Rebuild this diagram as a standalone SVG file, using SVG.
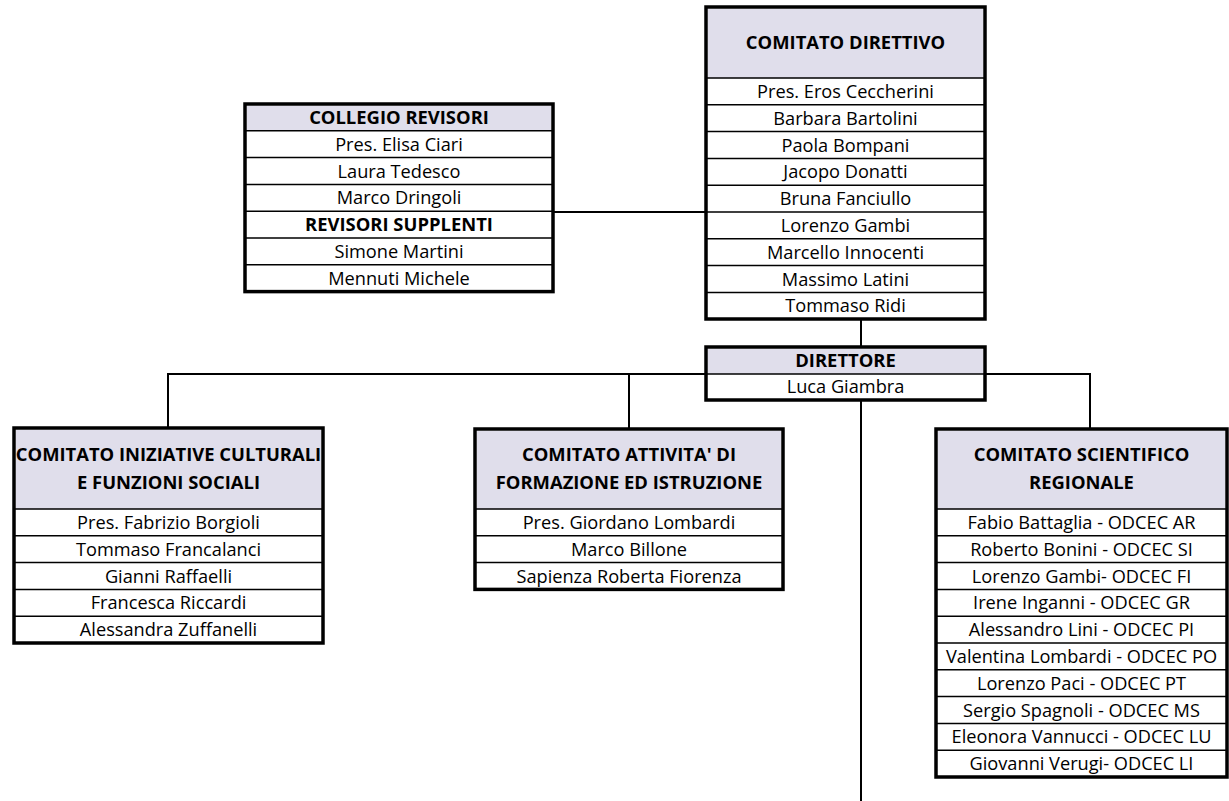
<svg xmlns="http://www.w3.org/2000/svg" width="1229" height="801" viewBox="0 0 1229 801">
<style>
.frame{fill:#fff;stroke:#000;stroke-width:3.5}
.hd{fill:#e0deeb;stroke:none}
.sep{stroke:#000;stroke-width:1.5}
.conn{stroke:#000;stroke-width:2;fill:none}
text{font-family:"Open Sans","Liberation Sans",sans-serif;font-size:18.2px;text-anchor:middle;fill:#000}
.b{font-weight:bold;font-size:18.4px}
</style>
<rect width="1229" height="801" fill="#fff"/>
<g id="connectors">
<path class="conn" d="M553,212H706"/>
<path class="conn" d="M861,319V347"/>
<path class="conn" d="M861,400V801"/>
<path class="conn" d="M706,374H168V428"/>
<path class="conn" d="M629,374V429"/>
<path class="conn" d="M985,374H1090V429"/>
</g>
<g id="direttivo">
<rect class="frame" x="706" y="7" width="279" height="312"/>
<rect class="hd" x="708" y="9" width="275" height="69"/>
<path class="sep" d="M706,78H985M706,104.8H985M706,131.6H985M706,158.4H985M706,185.2H985M706,212H985M706,238.8H985M706,265.6H985M706,292.4H985"/>
<text class="b" x="845.5" y="49">COMITATO DIRETTIVO</text>
<text x="845.5" y="98">Pres. Eros Ceccherini</text>
<text x="845.5" y="124.8">Barbara Bartolini</text>
<text x="845.5" y="151.6">Paola Bompani</text>
<text x="845.5" y="178.4">Jacopo Donatti</text>
<text x="845.5" y="205.2">Bruna Fanciullo</text>
<text x="845.5" y="232">Lorenzo Gambi</text>
<text x="845.5" y="258.8">Marcello Innocenti</text>
<text x="845.5" y="285.6">Massimo Latini</text>
<text x="845.5" y="312.4">Tommaso Ridi</text>
</g>
<g id="collegio">
<rect class="frame" x="245" y="104" width="308" height="187.6"/>
<rect class="hd" x="247" y="106" width="304" height="24.8"/>
<path class="sep" d="M245,130.8H553M245,157.6H553M245,184.4H553M245,211.2H553M245,238H553M245,264.8H553"/>
<text class="b" x="399" y="124">COLLEGIO REVISORI</text>
<text x="399" y="150.8">Pres. Elisa Ciari</text>
<text x="399" y="177.6">Laura Tedesco</text>
<text x="399" y="204.4">Marco Dringoli</text>
<text class="b" x="399" y="231.2">REVISORI SUPPLENTI</text>
<text x="399" y="258">Simone Martini</text>
<text x="399" y="284.8">Mennuti Michele</text>
</g>
<g id="direttore">
<rect class="frame" x="706" y="347" width="279" height="53"/>
<rect class="hd" x="708" y="349" width="275" height="25"/>
<path class="sep" d="M706,374H985"/>
<text class="b" x="845.5" y="367">DIRETTORE</text>
<text x="845.5" y="393">Luca Giambra</text>
</g>
<g id="culturali">
<rect class="frame" x="14" y="428" width="309" height="215"/>
<rect class="hd" x="16" y="430" width="305" height="79"/>
<path class="sep" d="M14,509H323M14,535.8H323M14,562.6H323M14,589.4H323M14,616.2H323"/>
<text class="b" x="168.5" y="461">COMITATO INIZIATIVE CULTURALI</text>
<text class="b" x="168.5" y="489">E FUNZIONI SOCIALI</text>
<text x="168.5" y="529">Pres. Fabrizio Borgioli</text>
<text x="168.5" y="555.8">Tommaso Francalanci</text>
<text x="168.5" y="582.6">Gianni Raffaelli</text>
<text x="168.5" y="609.4">Francesca Riccardi</text>
<text x="168.5" y="636.2">Alessandra Zuffanelli</text>
</g>
<g id="formazione">
<rect class="frame" x="475" y="429" width="308" height="160.4"/>
<rect class="hd" x="477" y="431" width="304" height="78"/>
<path class="sep" d="M475,509H783M475,535.8H783M475,562.6H783"/>
<text class="b" x="629" y="461">COMITATO ATTIVITA' DI</text>
<text class="b" x="629" y="489">FORMAZIONE ED ISTRUZIONE</text>
<text x="629" y="529">Pres. Giordano Lombardi</text>
<text x="629" y="555.8">Marco Billone</text>
<text x="629" y="582.6">Sapienza Roberta Fiorenza</text>
</g>
<g id="scientifico">
<rect class="frame" x="936" y="429" width="291" height="348"/>
<rect class="hd" x="938" y="431" width="287" height="78"/>
<path class="sep" d="M936,509H1227M936,535.8H1227M936,562.6H1227M936,589.4H1227M936,616.2H1227M936,643H1227M936,669.8H1227M936,696.6H1227M936,723.4H1227M936,750.2H1227"/>
<text class="b" x="1081.5" y="461">COMITATO SCIENTIFICO</text>
<text class="b" x="1081.5" y="489">REGIONALE</text>
<text x="1081.5" y="529">Fabio Battaglia - ODCEC AR</text>
<text x="1081.5" y="555.8">Roberto Bonini - ODCEC SI</text>
<text x="1081.5" y="582.6">Lorenzo Gambi- ODCEC FI</text>
<text x="1081.5" y="609.4">Irene Inganni - ODCEC GR</text>
<text x="1081.5" y="636.2">Alessandro Lini - ODCEC PI</text>
<text x="1081.5" y="663">Valentina Lombardi - ODCEC PO</text>
<text x="1081.5" y="689.8">Lorenzo Paci - ODCEC PT</text>
<text x="1081.5" y="716.6">Sergio Spagnoli - ODCEC MS</text>
<text x="1081.5" y="743.4">Eleonora Vannucci - ODCEC LU</text>
<text x="1081.5" y="770.2">Giovanni Verugi- ODCEC LI</text>
</g>
</svg>
